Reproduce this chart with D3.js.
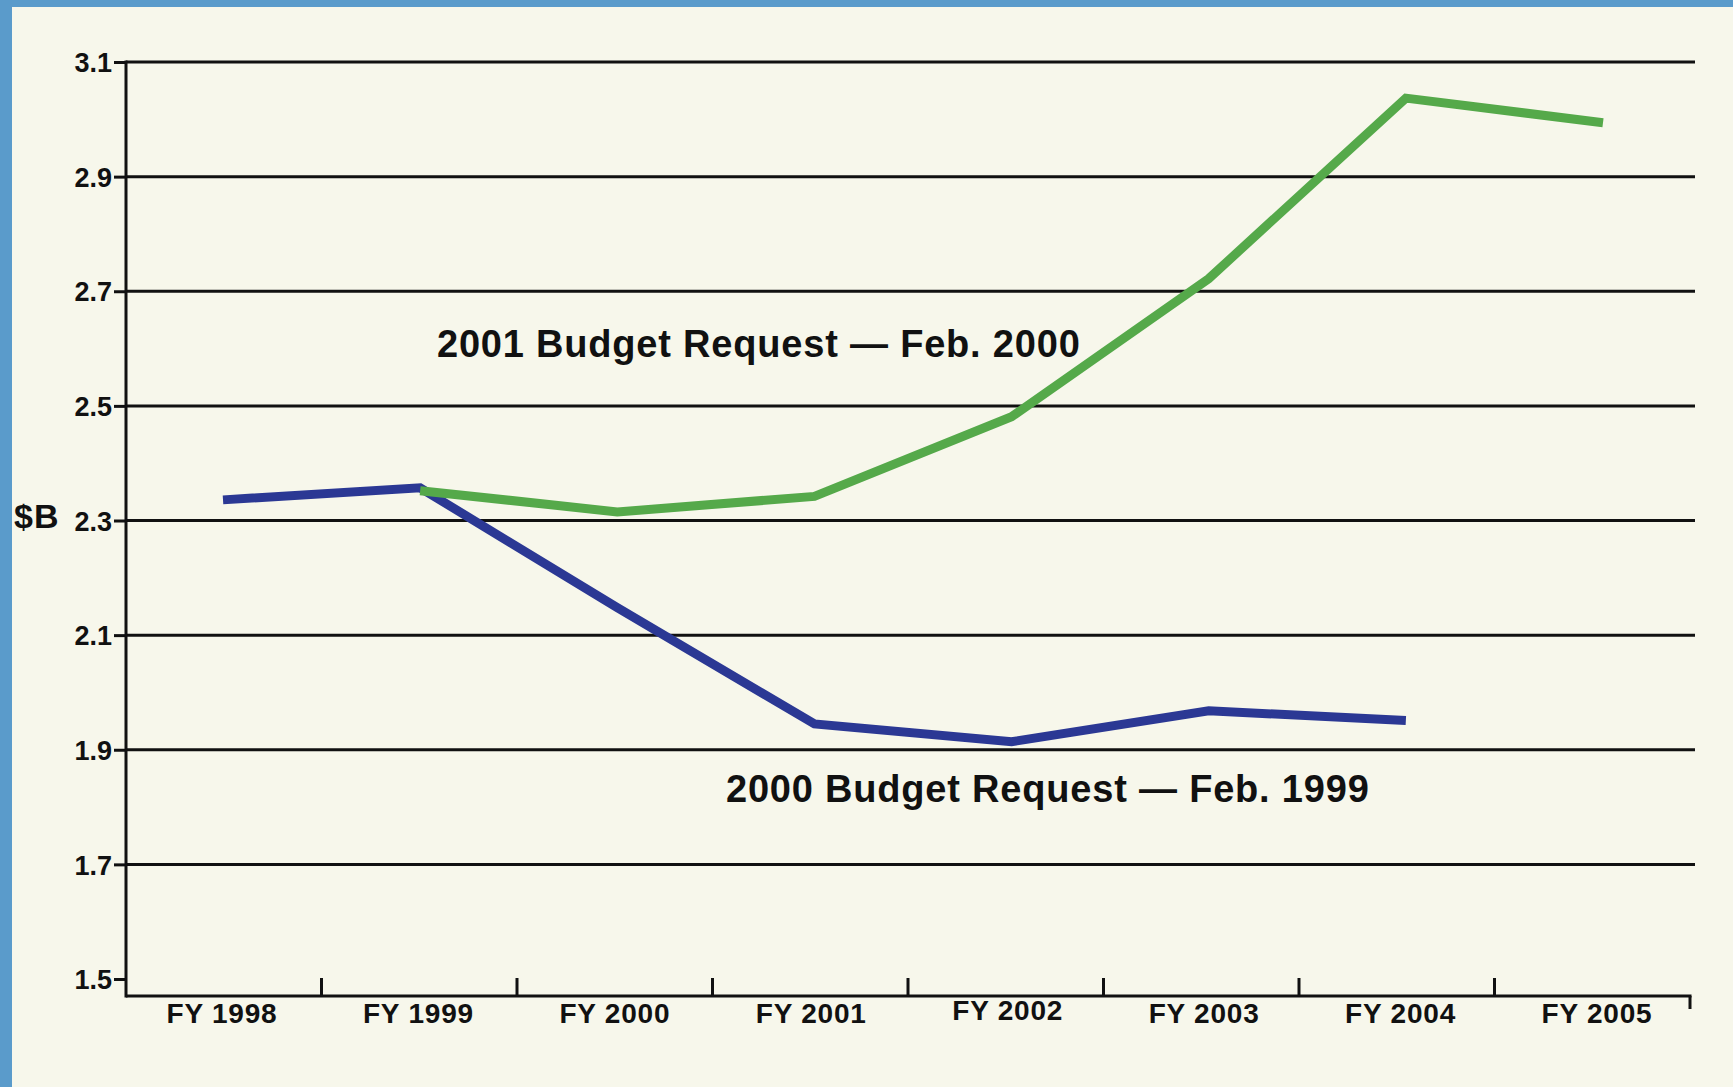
<!DOCTYPE html>
<html>
<head>
<meta charset="utf-8">
<script src="https://cdn.jsdelivr.net/npm/d3@7"></script>
<style>
  html, body { margin: 0; padding: 0; background: #f7f7eb; }
  svg { display: block; }
  text { font-family: "Liberation Sans", Arial, Helvetica, sans-serif; fill: #111; }
</style>
</head>
<body>
<svg id="chart" width="1733" height="1087"></svg>
<script>
const categories = ["FY 1998", "FY 1999", "FY 2000", "FY 2001", "FY 2002", "FY 2003", "FY 2004", "FY 2005"];
const yTicks = [1.5, 1.7, 1.9, 2.1, 2.3, 2.5, 2.7, 2.9, 3.1];
const request2000Cats = ["FY 1998", "FY 1999", "FY 2000", "FY 2001", "FY 2002", "FY 2003", "FY 2004"];
const request2000Vals = [2.336, 2.357, 2.148, 1.945, 1.914, 1.968, 1.951];
const request2001Cats = ["FY 1999", "FY 2000", "FY 2001", "FY 2002", "FY 2003", "FY 2004", "FY 2005"];
const request2001Vals = [2.352, 2.315, 2.342, 2.481, 2.722, 3.037, 2.994];
const label2000 = "2000 Budget Request — Feb. 1999";
const label2001 = "2001 Budget Request — Feb. 2000";
const unitLabel = "$B";

(function () {
const svg = d3.select("#chart");
const W = 1733, H = 1087;
const pL = 126, pR = 1690, pT = 62, pB = 979, axisY = 996;

svg.append("rect").attr("x", 0).attr("y", 0).attr("width", W).attr("height", H).attr("fill", "#f7f7eb");
svg.append("rect").attr("x", 0).attr("y", 0).attr("width", W).attr("height", 7).attr("fill", "#5a9bcb");
svg.append("rect").attr("x", 0).attr("y", 0).attr("width", 12).attr("height", H).attr("fill", "#5a9bcb");

const x = d3.scaleBand().domain(categories).range([pL, pR]);
const xp = d3.scalePoint().domain(categories).range([223, 1603]);
const xl = d3.scalePoint().domain(categories).range([222, 1597]);
const y = d3.scaleLinear().domain([1.5, 3.1]).range([pB, pT]);

// gridlines
svg.append("g").selectAll("line").data(yTicks.filter(t => t > 1.5)).join("line")
  .attr("x1", pL).attr("x2", 1695)
  .attr("y1", d => y(d)).attr("y2", d => y(d))
  .attr("stroke", "#111").attr("stroke-width", 3);

// y axis
const yAxis = d3.axisLeft(y).tickValues(yTicks).tickSize(12).tickPadding(2).tickFormat(d3.format(".1f"));
const gy = svg.append("g").attr("transform", `translate(${pL},0)`).call(yAxis);
gy.select(".domain").remove();
gy.selectAll(".tick line").attr("stroke", "#111").attr("stroke-width", 3);
gy.selectAll(".tick text").attr("font-size", 27).attr("font-weight", "bold")
  .attr("font-family", "'Liberation Sans', Arial, sans-serif").attr("fill", "#111").attr("dy", "0.36em");

svg.append("line").attr("x1", pL).attr("x2", pL).attr("y1", pT - 1.5).attr("y2", axisY + 1.5)
  .attr("stroke", "#111").attr("stroke-width", 3);

// x axis
svg.append("line").attr("x1", pL).attr("x2", pR + 1.5).attr("y1", axisY).attr("y2", axisY)
  .attr("stroke", "#111").attr("stroke-width", 3);
svg.append("g").selectAll("line").data(categories.slice(1)).join("line")
  .attr("x1", d => x(d)).attr("x2", d => x(d))
  .attr("y1", axisY - 18).attr("y2", axisY)
  .attr("stroke", "#111").attr("stroke-width", 3);
svg.append("line").attr("x1", pR).attr("x2", pR).attr("y1", axisY).attr("y2", axisY + 13)
  .attr("stroke", "#111").attr("stroke-width", 3);
svg.append("g").selectAll("text").data(categories).join("text")
  .attr("x", d => xl(d))
  .attr("y", d => d === "FY 2002" ? 1020 : 1023)
  .attr("text-anchor", "middle").attr("font-size", 28).attr("letter-spacing", 0.8).attr("font-weight", "bold")
  .text(d => d);

// unit label
svg.append("text").attr("x", 14).attr("y", 528).attr("font-size", 34).attr("letter-spacing", 1).attr("font-weight", "bold").text(unitLabel);

// lines
const line = d3.line().x(d => xp(d[0])).y(d => y(d[1]));
svg.append("path").datum(request2000Cats.map((c, i) => [c, request2000Vals[i]]))
  .attr("d", line).attr("fill", "none").attr("stroke", "#2b3894").attr("stroke-width", 9).attr("stroke-linejoin", "miter");
svg.append("path").datum(request2001Cats.map((c, i) => [c, request2001Vals[i]]))
  .attr("d", line).attr("fill", "none").attr("stroke", "#55a94a").attr("stroke-width", 9).attr("stroke-linejoin", "miter");

// annotations
svg.append("text").attr("x", 437).attr("y", 357).attr("font-size", 38).attr("letter-spacing", 0.8).attr("font-weight", "bold").text(label2001);
svg.append("text").attr("x", 726).attr("y", 802).attr("font-size", 38).attr("letter-spacing", 0.8).attr("font-weight", "bold").text(label2000);
})();
</script>
</body>
</html>
